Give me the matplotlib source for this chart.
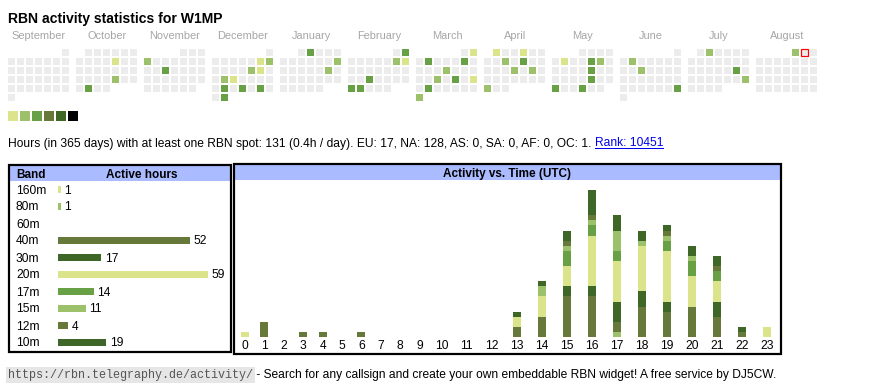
import datetime as dt
import matplotlib
matplotlib.use('Agg')
import matplotlib.pyplot as plt
from matplotlib.patches import Rectangle
import numpy as np

W, H, DPI = 870, 390, 100
PT = 72 / DPI   # points per pixel

plt.rcParams['font.family'] = ['Liberation Sans', 'DejaVu Sans']

PALETTE = ['#dbe38b', '#9dc06a', '#68a045', '#66793a', '#3e6727', '#000000']
CELL_GRAY = '#ececec'
HEAD_BLUE = '#aabbff'

# ---------------- data ----------------
TITLE = 'RBN activity statistics for W1MP'
MONTHS = ['September', 'October', 'November', 'December', 'January', 'February',
          'March', 'April', 'May', 'June', 'July', 'August']
CAL_START = dt.date(2024, 9, 1)
CAL_END = dt.date(2025, 8, 31)
TODAY = dt.date(2025, 8, 2)

# days with at least one spot, and their colour level (1..3)
ACTIVE_DAYS = ['2024-10-11', '2024-10-25', '2024-10-29',
               '2024-11-04', '2024-11-13',
               '2024-12-07', '2024-12-08', '2024-12-13', '2024-12-14', '2024-12-17',
               '2024-12-18', '2024-12-24', '2024-12-26', '2024-12-28', '2024-12-31',
               '2025-01-02', '2025-01-12', '2025-01-18',
               '2025-02-02', '2025-02-08', '2025-02-09', '2025-02-19', '2025-02-24', '2025-02-25',
               '2025-03-02', '2025-03-04', '2025-03-08', '2025-03-13', '2025-03-19',
               '2025-03-21', '2025-03-23', '2025-03-25', '2025-03-31',
               '2025-04-01', '2025-04-04', '2025-04-09', '2025-04-11', '2025-04-17',
               '2025-04-19', '2025-04-28',
               '2025-05-06', '2025-05-09', '2025-05-10', '2025-05-16', '2025-05-23',
               '2025-05-26', '2025-05-29',
               '2025-06-03', '2025-06-11', '2025-06-29',
               '2025-07-02', '2025-07-19', '2025-07-27',
               '2025-08-01']
ACTIVE_LEVEL = [1, 2, 3,
                2, 3,
                1, 2, 2, 1, 2,
                1, 3, 3, 3, 3,
                3, 2, 2,
                3, 2, 1, 3, 3, 3,
                1, 3, 3, 2, 2,
                3, 1, 3, 2,
                1, 1, 2, 3, 2,
                2, 2,
                1, 3, 2, 3, 3,
                3, 3,
                2, 2, 3,
                2, 3, 2,
                2]

STATS = ('Hours (in 365 days) with at least one RBN spot: 131 (0.4h / day). '
         'EU: 17, NA: 128, AS: 0, SA: 0, AF: 0, OC: 1. ')
RANK = 'Rank: 10451'
URL = 'https://rbn.telegraphy.de/activity/'
FOOTER = ' - Search for any callsign and create your own embeddable RBN widget! A free service by DJ5CW.'

BANDS = ['160m', '80m', '60m', '40m', '30m', '20m', '17m', '15m', '12m', '10m']
BAND_HOURS = [1, 1, 0, 52, 17, 59, 14, 11, 4, 19]
BAND_COLOR = [0, 1, 2, 3, 4, 0, 2, 1, 3, 4]

HOURS = [str(h) for h in range(24)]
# active hours per UTC hour of day, per band
#            0  1  2  3  4  5  6  7  8  9 10 11 12 13 14 15 16 17 18 19 20 21 22 23
ACT_160 = [1, 0, 0, 0, 0, 0, 0, 0, 0, 0, 0, 0, 0, 0, 0, 0, 0, 0, 0, 0, 0, 0, 0, 0]
ACT_80 = [0, 0, 0, 0, 0, 0, 0, 0, 0, 0, 0, 0, 0, 0, 0, 0, 0, 1, 0, 0, 0, 0, 0, 0]
ACT_60 = [0] * 24
ACT_40 = [0, 3, 0, 1, 1, 0, 1, 0, 0, 0, 0, 0, 0, 2, 4, 8, 8, 2, 6, 5, 6, 4, 1, 0]
ACT_30 = [0, 0, 0, 0, 0, 0, 0, 0, 0, 0, 0, 0, 0, 0, 0, 2, 2, 4, 3, 2, 0, 3, 1, 0]
ACT_20 = [0, 0, 0, 0, 0, 0, 0, 0, 0, 0, 0, 0, 0, 2, 4, 4, 10, 8, 9, 10, 6, 4, 0, 2]
ACT_17 = [0, 0, 0, 0, 0, 0, 0, 0, 0, 0, 0, 0, 0, 0, 0, 3, 2, 2, 0, 2, 3, 2, 0, 0]
ACT_15 = [0, 0, 0, 0, 0, 0, 0, 0, 0, 0, 0, 0, 0, 0, 2, 1, 1, 4, 1, 1, 1, 0, 0, 0]
ACT_12 = [0, 0, 0, 0, 0, 0, 0, 0, 0, 0, 0, 0, 0, 0, 0, 1, 1, 0, 0, 1, 0, 1, 0, 0]
ACT_10 = [0, 0, 0, 0, 0, 0, 0, 0, 0, 0, 0, 0, 0, 1, 1, 2, 5, 3, 2, 1, 2, 2, 0, 0]
ACTIVITY = [ACT_160, ACT_80, ACT_60, ACT_40, ACT_30, ACT_20, ACT_17, ACT_15, ACT_12, ACT_10]

# ---------------- figure ----------------
fig = plt.figure(figsize=(W / DPI, H / DPI), dpi=DPI)
bg = fig.add_axes([0, 0, 1, 1])
bg.set_xlim(0, W)
bg.set_ylim(H, 0)
bg.axis('off')


def px_axes(x0, y0, x1, y1):
    # axes placed in figure pixels (y from top)
    return fig.add_axes([x0 / W, 1 - y1 / H, (x1 - x0) / W, (y1 - y0) / H])


bg.text(8, 17, TITLE, fontsize=14 * PT, fontweight='bold', va='center_baseline', ha='left')

# calendar
level_of = {dt.date.fromisoformat(d): lv for d, lv in zip(ACTIVE_DAYS, ACTIVE_LEVEL)}
for m, name in enumerate(MONTHS):
    bg.text(8 + 68 * m + 31, 35, name, fontsize=11 * PT, color='#a6a6a6',
            ha='center', va='center_baseline')
day = CAL_START
while day <= CAL_END:
    m = (day.year - CAL_START.year) * 12 + day.month - CAL_START.month
    offset = day.replace(day=1).weekday()
    row, col = divmod(day.day - 1 + offset, 7)
    lv = level_of.get(day, 0)
    fc = PALETTE[lv - 1] if lv else CELL_GRAY
    ec = 'red' if day == TODAY else 'none'
    bg.add_patch(Rectangle((8 + 68 * m + 9 * col, 49 + 9 * row), 7, 7,
                           facecolor=fc, edgecolor=ec, lw=1.2 * PT if day == TODAY else 0))
    day += dt.timedelta(days=1)

for i, c in enumerate(PALETTE):
    bg.add_patch(Rectangle((8 + 12 * i, 111), 10, 10, facecolor=c, edgecolor='none'))

# stats line with link
fig.canvas.draw()
rend = fig.canvas.get_renderer()
t = bg.text(8, 142, STATS, fontsize=12 * PT, va='center_baseline', ha='left')
bb = t.get_window_extent(rend)
link = bg.text(bb.x1, 142, RANK, fontsize=12 * PT, va='center_baseline', ha='left',
               color='#0000ee')
lb = link.get_window_extent(rend)
bg.plot([lb.x0, lb.x1], [147.5, 147.5], color='#0000ee', lw=1 * PT)

# table frames
bg.add_patch(Rectangle((9, 165), 222, 187, facecolor='white', edgecolor='none'))
bg.add_patch(Rectangle((9, 166), 222, 15, facecolor=HEAD_BLUE, edgecolor='none'))
bg.add_patch(Rectangle((9, 165), 222, 187, facecolor='none', edgecolor='black', lw=2.2 * PT))
bg.text(16, 173.5, 'Band', fontsize=11.7 * PT, fontweight='bold', va='center_baseline')
bg.text(141.5, 173.5, 'Active hours', fontsize=11.7 * PT, fontweight='bold',
        va='center_baseline', ha='center')

bg.add_patch(Rectangle((234.5, 164.3), 546.5, 15.7, facecolor=HEAD_BLUE, edgecolor='none'))
bg.add_patch(Rectangle((234.5, 164.3), 546.5, 189.4, facecolor='none', edgecolor='black',
                       lw=2.2 * PT))
bg.text(507.5, 173, 'Activity vs. Time (UTC)', fontsize=11.7 * PT, fontweight='bold',
        va='center_baseline', ha='center')

# band bars
PX_H = 2.54   # px per hour
ax1 = px_axes(58, 180.5, 228, 350.5)
ax1.set_xlim(0, 170 / PX_H)
ax1.set_ylim(len(BANDS) - 0.5, -0.5)
ypos = np.arange(len(BANDS))
ax1.barh(ypos, BAND_HOURS, height=7 / 17, color=[PALETTE[c] for c in BAND_COLOR])
for y, v in zip(ypos, BAND_HOURS):
    if v:
        ax1.annotate(str(v), (v, y), xytext=(3.5 * PT, 0), textcoords='offset points',
                     va='center_baseline', ha='left', fontsize=12 * PT)
ax1.set_yticks(ypos, BANDS)
ax1.tick_params(axis='y', length=0, pad=42 * PT, labelsize=12 * PT)
for lab in ax1.get_yticklabels():
    lab.set_horizontalalignment('left')
ax1.set_xticks([])
ax1.patch.set_visible(False)
for s in ax1.spines.values():
    s.set_visible(False)

# activity vs hour
widths = np.array([19.4 if len(h) == 1 else 25.0 for h in HOURS])
xpos = np.cumsum(widths) - widths / 2
PX_V = 5.07   # px per hour
ax2 = px_axes(235.3, 182, 235.3 + widths.sum(), 337)
ax2.set_xlim(0, widths.sum())
ax2.set_ylim(0, 155 / PX_V)
bottom = np.zeros(24)
for vals, c in zip(ACTIVITY, BAND_COLOR):
    vals = np.array(vals)
    ax2.bar(xpos, vals, bottom=bottom, width=8, color=PALETTE[c], linewidth=0)
    bottom += vals
ax2.set_xticks(xpos, HOURS)
ax2.tick_params(axis='x', length=0, pad=3 * PT, labelsize=12 * PT)
ax2.set_yticks([])
ax2.patch.set_visible(False)
for s in ax2.spines.values():
    s.set_visible(False)

# footer
u = bg.text(8, 373.5, URL, fontsize=11.7 * PT, family='Liberation Mono', color='#555555',
            va='center_baseline', ha='left',
            bbox=dict(facecolor='#e6e6e6', edgecolor='none', pad=1.2))
ub = u.get_window_extent(rend)
bg.text(ub.x1, 373.5, FOOTER, fontsize=12 * PT, va='center_baseline', ha='left')

fig.savefig('out.png', dpi=DPI)
